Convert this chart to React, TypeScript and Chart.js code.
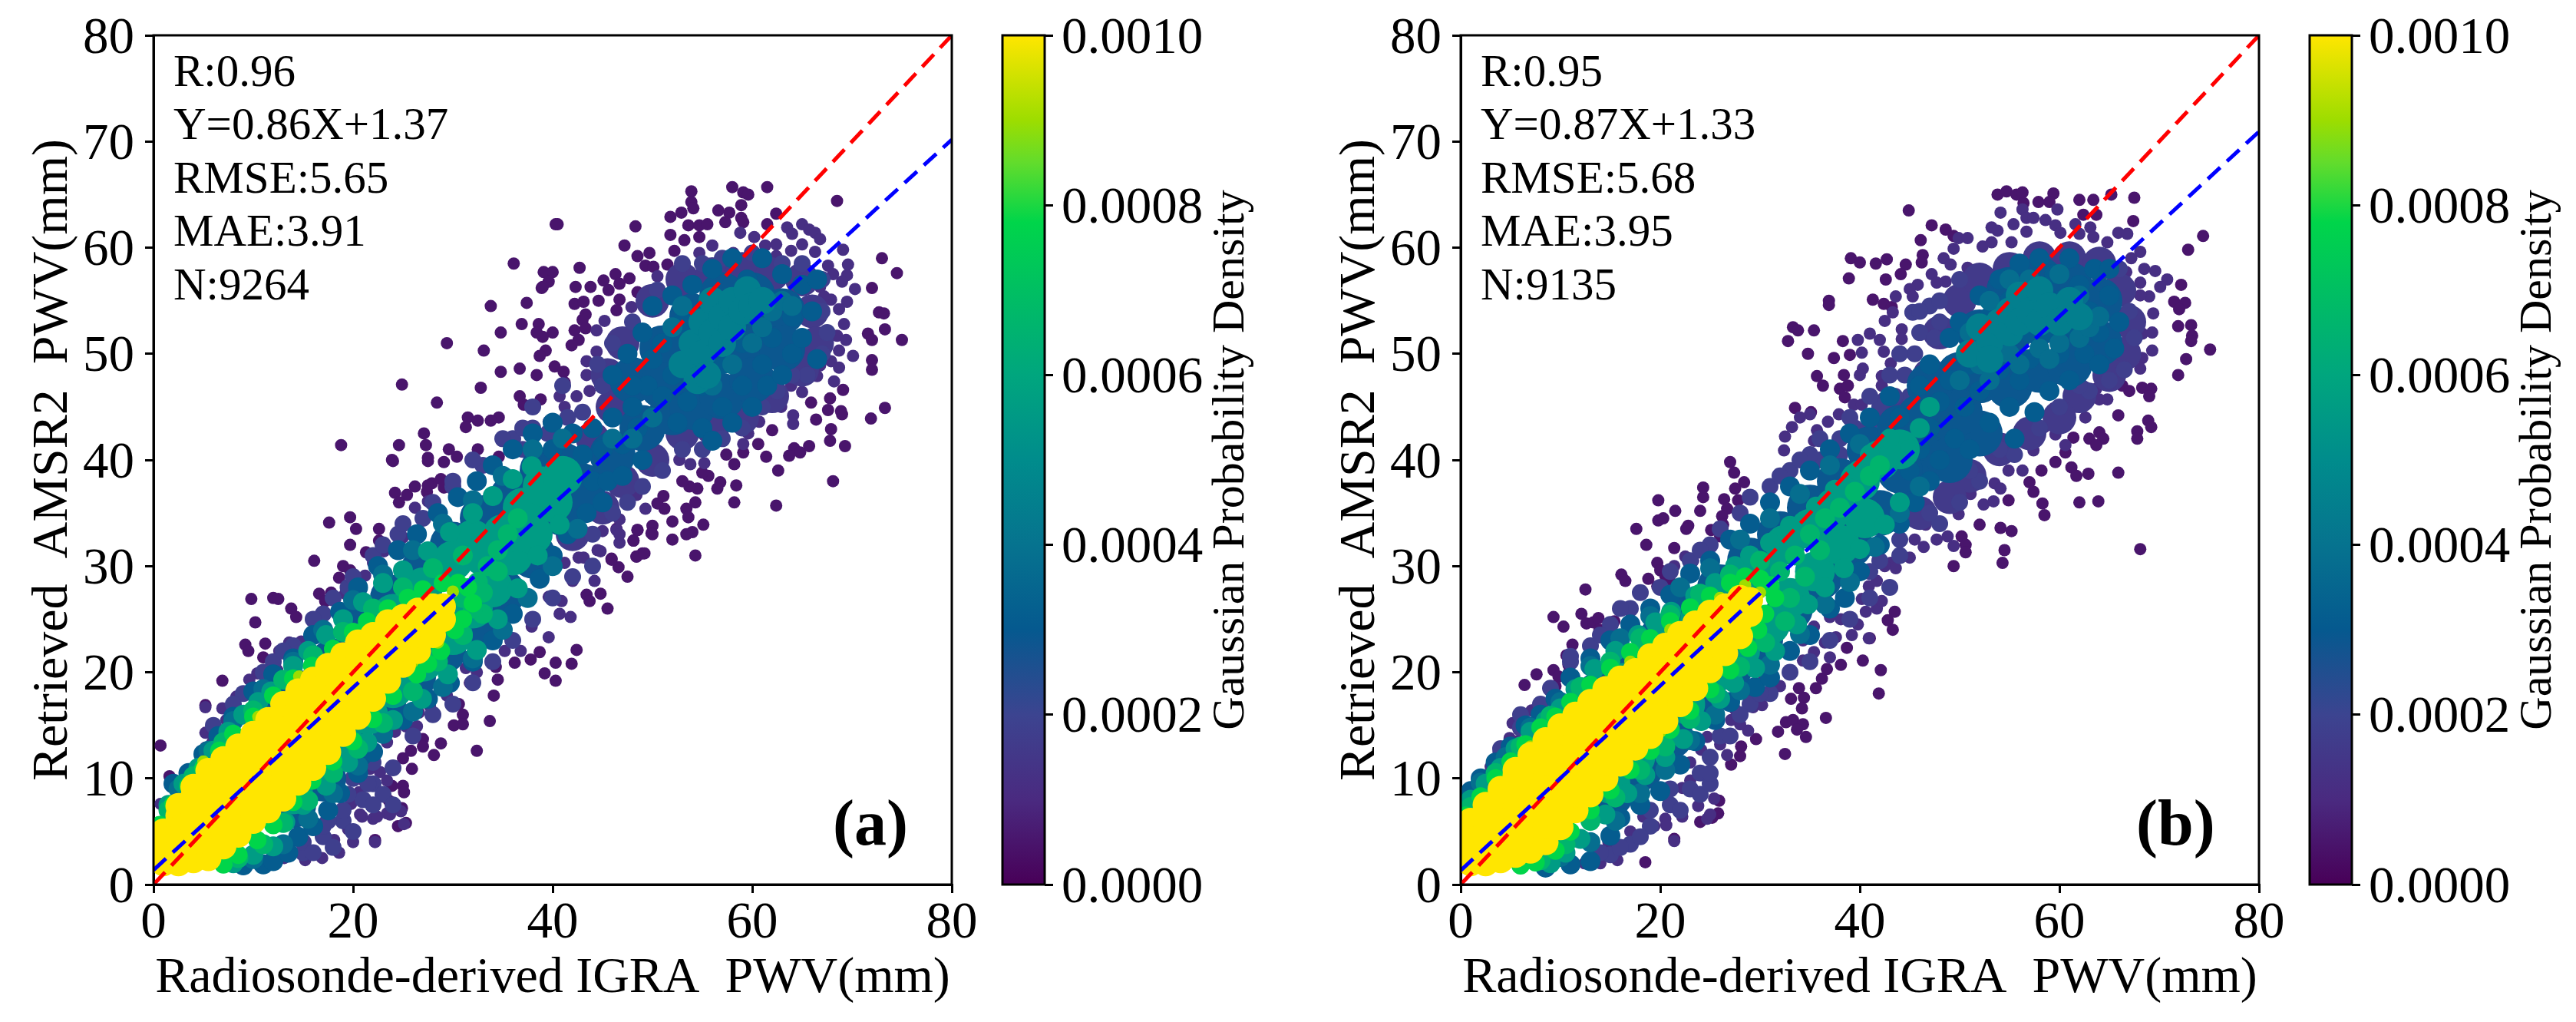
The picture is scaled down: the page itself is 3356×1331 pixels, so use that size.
import { useEffect, useRef } from "react";
import { Chart, registerables } from "chart.js";

Chart.register(...registerables);

const xTickValues = [0, 20, 40, 60, 80];
const yTickValues = [0, 10, 20, 30, 40, 50, 60, 70, 80];
const densityTicks = [0, 0.0002, 0.0004, 0.0006, 0.0008, 0.001];
const lineX = [0, 80];
const refY = [0, 80];
const fitYA = [1.37, 70.17];
const fitYB = [1.33, 70.93];
const statsA = ["R:0.96", "Y=0.86X+1.37", "RMSE:5.65", "MAE:3.91", "N:9264"];
const statsB = ["R:0.95", "Y=0.87X+1.33", "RMSE:5.68", "MAE:3.95", "N:9135"];

// colour bar, fraction of range and colour
const cmapStops = [0, 0.1, 0.2, 0.3, 0.4, 0.5, 0.6, 0.7, 0.78, 0.85, 0.9, 1];
const cmapColors = ["#480058", "#4a2a80", "#3c4490", "#05598f", "#06738f", "#008c8c", "#00a67e", "#00bf62", "#00d54a", "#62dc2c", "#9ddd00", "#ffe600"];

// panel (a), x,y pairs grouped by density
const aDark = [53.9,65.3,58,65.7,61.5,65.7,59.1,65.2,59.6,65,58.9,64,58.9,62.8,68.5,64.4,53.9,64.3,54.1,63.7,52.9,63.3,51.8,62.9,56.6,63.5,57.7,63.3,59.1,62.4,62.4,63.2,40.5,62.2,48.3,62,53.6,62.1,54.7,62.1,55.5,62.2,61.5,62.2,57.3,62.4,51.8,61.2,53.2,60.7,54.7,61,47.2,60.2,52.2,59.7,49.7,59.5,48.5,59.2,51.5,58.4,49.3,58.3,50.1,58.2,42.7,58.1,39.1,57.7,40,57.7,39.6,56.8,38.9,56.2,42.3,56.3,43.8,56.3,42.2,54.7,45.1,56.9,46.3,57.5,47.7,57.1,46.7,56.6,45.6,56,44.6,55,46.7,55.1,43.1,54.9,43.3,53.7,43,53.2,46.4,54.1,48.5,55.8,38.6,52.8,40,52,39,51.6,42.2,52.2,43.3,52.4,42.6,51.3,41.9,50.8,39.3,50.3,38.7,49.8,40.2,48.8,41.1,48.3,41.2,47.3,73,59,74.5,57.6,72,56.2,72.7,53.9,73.2,53.8,73.3,52.3,75,51.3,71.6,51.9,72,51.3,72,49.4,72,48.5,69.1,46.6,67.8,45.8,65.9,45.4,73.3,44.9,67.6,44.7,68.9,44.6,69,44.3,71.9,43.9,66.4,43.8,67.9,42.9,67.8,41.8,69.3,41.3,65.7,41.3,64.2,41.1,64.8,40.7,63.7,40.4,62,42.8,61.4,40.3,60.6,41.5,59.1,40.7,57.4,40.5,58.2,39.6,62.6,39,68.1,38,58.4,37.6,56.8,37.9,56.5,37.3,58.2,36,62.4,35.7,54.5,37.3,53.7,37.5,53,38,55.6,38.5,55,38.8,54.3,36,53.4,35.4,53.6,34.6,55.1,33.9,52,34.2,54,33.2,53.4,33,52,32.5,50,33.8,49.9,33.1,48.5,33.4,48.1,32.4,49,31.2,48.4,30.9,54.3,31,45.9,30.7,51.2,35.4,50.5,35.9,51.1,36.6,24.2,36.9,26.2,37.5,27.9,37.8,27.4,37,29.1,37.4,24,39.9,27.5,39.9,29.1,39.8,19.7,34.6,17.6,34.1,20.3,33.5,22.6,33.5,22.6,32.4,19.7,32,16.1,30.5,21.3,31.3,19,30,19.7,29.6,18.6,28.9,16.6,27.4,17.8,27.5,17.2,26.7,9.8,26.9,12,27,12.5,26.9,13.8,26,14.3,25.2,10.2,24.7,9.2,22.6,9.5,22,11.2,22.7,11,21.4,6.9,19.2,5.2,16.9,45.5,26,44.8,27.4,43.4,27.3,43.7,26.7,47.5,29,46.6,29.9,45.9,30.6,48.4,30.9,49.2,31.2,48.1,32.4,48.5,33.4,50,33,46.4,33.5,42.4,22.1,41.9,20.8,40.3,20.9,38.7,21.9,37.8,21.2,39.2,19.9,40.3,19.2,36.2,20.9,34.3,20.5,34.5,19.3,34.1,17.8,31.7,19,33.7,15.4,30.6,17,31,16,30.1,15,31,15.1,32.4,12.6,28.8,13.3,27,13.7,27,13,28.1,12.2,25,11.9,25.8,12.6,25.9,10.9,22.2,4.2,25.3,5.8,24.5,5.5,25,9.3,25.1,8.7,23.9,9.3,24.9,7.2,23.6,7.9,0.7,13.1,1.6,10.2,24.9,47.1,18.8,41.4,28.4,45.4,29.4,51,33.1,50.3,32.8,46.8,23.9,40,24.6,41.4,27.1,42.5,27.3,41.4,27.5,40.2,28.8,38.2,27.5,37.6,30.4,40.3,31.5,44,34.6,44,37.1,45.2,38.8,45.7,34.8,52,36.9,52.8,34.8,48.3,36.7,46,37.4,54.8,36.1,58.5,39,56.3,40.3,62.2,33.8,54.5,38.4,52,38.4,48,36.7,48.6,31.3,43.1,32.5,43.7,33.8,43.7,29.6,41,32.5,41,34.6,40.3,25.4,36.7,24.6,36];
const aIndigo = [69.1,59.8,69.6,58.4,69.5,57.4,69,56.8,70.3,56.1,69.5,54.9,67.9,55.1,68.7,54.2,69.2,52.8,68.5,51.7,69.4,51.3,70.1,49.8,68.7,50.3,67.9,49.3,68.7,48.7,66.8,48.9,66.5,47.9,68.2,47.4,65,46.4,63.9,47,62.9,45,64.1,44.2,64.1,43.4,60.7,43.6,59.6,42.5,59.1,41.5,55.2,39.7,53.8,39.6,52.7,40,49.3,35.4,48.4,36.7,46.7,34.4,46.4,33.4,45,33.3,46.7,32.2,44.8,31.4,42.6,30.8,41.2,30.3,47.9,54.4,45.2,53.1,44.4,52.2,43.4,49.3,44.4,50.2,43.4,48,43.7,46.5,40.7,46,42.4,46,41.2,45,39.6,43.6,50.5,57.3,54.7,59.5,56,60.2,58.1,59.5,58.8,61.4,60.2,61,61.3,60.2,62.4,60.3,63.5,61.9,64,61.3,65,62.2,65.7,61.7,66.3,61.4,66.8,60.8,63.9,59.7,65,60.3,66.3,59.6,62.4,59.2,59.9,59,67.6,58.3,68.1,57.5,66.8,56.3,67.2,55.4,13.6,22.8,12.6,22,15.7,23.5,14.8,22.9,10.4,19.9,9.6,19.3,11,19.9,12.4,20.2,8.3,17.7,9.7,18,26.2,35.5,26.9,34.6,27.5,36.1,25,32.7,23.1,31.4,22,30.3,20.3,28.6,21.2,29.1,19.2,27.4,21.7,10.9,20.9,9.9,20.6,8.7,22.7,10.6,23.4,9.8,22.8,8.4,20.9,6.4,22,6.2,23.4,6.7,19.8,7.6,19.5,5.2,18.1,4.2,24.2,14.4,25.3,14.9,26.4,14.9,26.6,16.2,23.4,13.4,29.4,17.8,27.7,16.8,32.4,20,31.3,20.4,35.2,22,36.8,22,37.9,24.3,39.6,23.3,40.7,25.5,41.8,25.2,40.9,26.7,39.6,27.1,42,28.6,44.2,28.6,43.1,30.8,44.5,31.5,46.7,33,25.1,5.7,22.2,4,20,4,18.6,3,16.9,2.5,15.2,2.3,13.1,2.5,23.7,6.6,24.8,6.9,22.4,6.4,20.7,6.6,18.9,5.9,17.6,4.2,0.7,7.6,1.4,7.6,5.2,16.7,6.9,16.6,8.3,17.6,5.2,14.3,5.9,14.6,7.3,15.5,5.2,12.9,5.9,13.4,3.3,10.7,4.8,10.7,2.8,8.9];
const aPlumCore = [47,51,50,55,53,57,56,57.5,59,58,62,57.5,65,57,66,54,66.5,51,65,48.5,62,46,59,44,56,43,53,42.5,50,40,47,38,45,35.5,44,42,46,45,45.5,48,42,33];
const aPlum = [50.5,56,48,53,46,51,44.5,49,45,47,43,44.5,41.5,44,39.5,42.5,37,41,67,54,67.5,52,67,50,65.5,48,64,48,62.5,46.5,61,45,59,43,57,42,55,41,53,41,51,39,49,37.5,47.5,36,46,35,44,33,53,58.5,55,58.5,57,59,60,59.5,63,58.5,65,58.5,67,57,15,3,17,4.5,19,6,21,8,22,9.5,24,11,6,15,9,18,12,21,14,22.5,17,25.5,19.5,28,22,31,24.5,33,27,34.5,30,37.5,33,39.5,36,42,38,43,15,4,17,5.5,19,7,20,5,21.5,9.5,23,8.5,22,7.5,24,7.5,18,3.5,16,3,20,10,22,11.5,17.5,6,19.5,8.5,26,14,28,16,30,17,32,19,34,21,36,23,38,25,40,27,42,29,44,30,8,17,11,20,13,22,16,25,18,27,20,29,23,32,25,34,28,36,30,38,32,40,35,42,37,43,38,45,41,47];
const aBlueCore = [6,9,9,12.5,12,15.5,15,18,18,21,21,24.5,24,27,27,29.5,30,32,33,34.5,36,36.5,39,39,41,39.5,14,7.5,17,10,20,13,23,17,26,19.5,29,22,32,24.5,35,27.5,38,31,41,35,43,37.5,46,40.5,49,43,52,44.5,48,47.5,51,50.5,51,47,54,53.5,54,48.5,54,45,57,55.5,57,50.5,57,46,60,55.5,60,51,60,47.5,63,54,63,50.5];
const aBlue = [2,9.5,3.5,10.5,5,12.3,6.5,14,8,15.8,10,18.2,12,19.8,14,21.3,16,23.5,18.7,25.7,20.5,28,22.5,30,24.5,31.5,26.4,33,28.5,35,30.5,36.5,32.4,38,34,39.5,36,41,38,42.5,40,43.5,9,1.8,11,1.9,12,2.2,13.5,3,14.5,4.5,16,5.5,17.5,7,18.7,8.6,20.5,10.5,22,12.5,23,14.4,25,15.5,27.5,17.5,29.7,19,32,21,34,23,36,25.5,38.7,28.8,40,31,41.5,33,43.4,35,45,36,40,41,41,38.5,42,42.5,43,40.5,44,43,44,38,45,41,45.5,38,46,44,47,41.5,47,38.5,48,45,48.5,43,49,40,49.5,47,46,48,47.5,50,48,47,49,52,50,49.5,50,54.5,51,46,51,51,52,55.5,52,48,52.5,43.5,53,53,53.5,45.5,54,50,54,56.5,55,47,55,43,55.5,53,56,58,56,41.8,57,49,57,45,57.5,55,58,59,58,43.5,59,51,59,47,59.5,57,60,45,60,53.5,61,49,61,59,61.5,47,62,55,62,51.5,63,57.5,63,48,64,53.5,64,50,65,56.5,65,51.5,66,54,66.5,57,66.5,49.5];
const aSteel = [2.5,9,5.5,12.6,8,15.4,11,18.4,14,21,17,24,20,26.8,23,29.2,26,31.5,29,34,32,36.2,35,38.5,38,41,41,42,10,2.4,13,3.8,15.5,6.2,18,8.6,20.5,11.2,23,14.2,26,16.3,29,18.6,32,21.3,35,24,37.5,27,40,30,42.5,33.5,52,52.5,53,54.5,60,51,61,52.5,62,54,63,55,56,47,58,49,64,54.5,46,42,48,42,50,44];
const aTeal = [53,49,54,51,55,50,55,53,56,52,56,55,57,53.5,57,51,58,55,58,52.5,59,54,59.5,56,60,54.5,61,55,54.5,47.5,55.5,48];
const aSeaCore = [9,10.5,11.5,13,14,15.5,16.5,18,19,20.5,21.5,23,24,25.5,27,28,30,30.5,32,32.5,14,8.5,16.5,11,19,13.5,21.5,16,24,18.5,27,21,30,23.5,32,26,34,28,36,31,38,33,40,36,33,31,35,33,37,35.5,39,37.5,41,38.5];
const aSea = [1.5,7.5,3,9.5,4.5,11,6,12.6,7.5,14.4,9,16,10.5,17.2,11.8,18.2,14,20.6,15.5,22,17.3,23.5,19,25,21,26.6,23,28.4,25,29.6,27.5,31.4,29.7,33.2,32,35,34,36.6,36,38.2,37.9,39.4,8,2,10,2.8,12,3.6,13.2,5.9,15,7.5,17.3,9.3,19.5,11.5,21.4,13.4,24,15.5,26.9,17.5,29.5,19.8,32.4,22.1,34.5,25,36.5,27.9,38.5,31,40.7,33.9];
const aMint = [1.5,7,4,10.2,7,13.4,10,16.4,13,19.3,16,21.6,19,23.8,22,26,25,28,28,29.8,31,31,8.5,2.5,11,3.8,13,5.8,15.5,7.9,18,10.5,20.5,12.8,23,15.2,26,18.2,28.5,21,31,23.5,33,25.5,31,27,32.5,28.5,33.5,30,34.5,31.5,35.5,33,36.5,34.5,32,26,33,27.5,34.5,29.5];
const aGreen = [0.6,5.6,2,7.6,3.5,9.3,5,11,6.6,12.6,8,14.2,10,15.8,12,17.8,14,19.4,15.9,20.6,18,22.2,20,23.8,21.4,24.8,23.5,26,25.5,27,27,27.8,29,28.4,30.5,28.4,31.5,28,32,26.5,31,25,30.2,24,28.8,22,27.5,20.8,26.4,19.8,24,17.8,22,15.6,20,13.5,18,11.6,15.9,9.8,14,7.8,12,5.6,10.4,4.2,8.5,2.8,7,1.9];
const aLime = [30,27.6,29.6,25.8,28.5,22.8,26,21,23.8,18.6,17,12.2,5,11.6,14.6,19.6,10.5,15.8];
const aYellow = [1,2,1,3.5,1,5,2.5,2,2.5,3.5,2.5,5,2.5,6.5,2.5,7.4,4,2.3,4,3.8,4,5.3,4,6.8,4,8.3,4,9.2,5.5,2.5,5.5,4,5.5,5.5,5.5,7,5.5,8.5,5.5,10,5.5,10.7,7,3.6,7,5,7,6.5,7,8,7,9.5,7,11,7,11.8,8.5,4.7,8.5,6.2,8.5,7.7,8.5,9.2,8.5,10.7,8.5,12.2,8.5,13,10,6,10,7.5,10,9,10,10.5,10,12,10,13.5,10,14.2,11.5,7,11.5,8.5,11.5,10,11.5,11.5,11.5,13,11.5,14.5,11.5,15.5,13,8.1,13,9.6,13,11.1,13,12.6,13,14.1,13,15.6,13,17,14.5,9.6,14.5,11,14.5,12.5,14.5,14,14.5,15.5,14.5,17,14.5,18.2,16,11,16,12.5,16,14,16,15.5,16,17,16,18.5,16,19.3,17.5,12.5,17.5,14,17.5,15.5,17.5,17,17.5,18.5,17.5,20,17.5,20.6,19,14.2,19,15.7,19,17.2,19,18.7,19,20.2,19,21.6,20.5,15.8,20.5,17.3,20.5,18.8,20.5,20.3,20.5,21.8,20.5,22.8,22,17.5,22,19,22,20.5,22,22,22,23.5,23.5,19.2,23.5,20.7,23.5,22.2,23.5,23.7,23.5,24.7,25,20.7,25,22.2,25,23.7,25,25.2,26.5,22,26.5,23.5,26.5,25,26.5,25.8,28,23.5,28,25,28,26.2,29,25,29,26.2];

// panel (b), x,y pairs grouped by density
const bDark = [44.9,63.5,47.2,62.1,48.6,61.7,49.4,61.1,46.1,60.7,46.3,59.3,46.2,58.6,39.1,59,40,58.6,41.6,58.5,42.7,58.9,44.6,58.4,38.9,57.1,42.6,57,44.1,57.5,36.9,55,36.9,54.6,41.3,55.1,42.4,54.7,43.2,54.4,33.3,52.5,33.8,52.2,35.4,52.2,32.8,51.2,38.3,51.2,34.8,50,37.4,49.6,39,49.9,35.7,47.9,36.3,47,38.4,48,38,46.7,38.8,47,38.5,45.9,33.5,44.9,35.1,44.5,53.8,65,54.7,65.3,55.7,65,56.3,65.2,56.4,64.2,59.4,65.1,57.9,64.3,59,64.3,62,64.5,63.4,64.5,65.2,65,67.5,64.7,62.4,63.1,63.7,63.1,67.4,62.5,74.4,61.1,72.9,59.8,72.2,56.5,71.5,54.9,72.6,54.8,72,54.2,71.9,52.6,73.2,52.7,73.3,51.7,73.2,51.2,72.7,49.5,71.9,48,75.1,50.4,68.3,46.8,69.2,46.7,69,46,66.3,47,67,46.5,65.9,44.2,68.9,43.7,69.2,43.1,67.8,42.7,67.8,42,64,42.6,63,42,64.4,42,63.7,41.4,61.4,42.1,60.6,40.7,59.6,39.8,61.2,39.3,61.7,38.5,62.9,38.7,65.9,38.8,58.2,39,62,36,63.9,36.1,58.3,35.9,58.5,34.8,57.4,37,57,37.9,54.9,36.2,52,33.9,54.1,33.6,55.2,33.3,54.5,31.5,54.3,30.3,68.1,31.6,50.2,32.8,50.6,32,50.6,31.3,49.4,30,27,39.8,27.4,38.8,24.3,37.4,24.3,36.5,28.4,37.9,27.5,37.3,27.8,36.2,19.8,36.2,21.5,35.2,24,35.2,19.8,34.3,20.3,34.5,22.8,33.8,22.6,33.5,17.6,33.5,18.6,32,21.4,31.7,26.4,36.3,26.7,35.4,26.2,34.7,26.3,33.9,25.1,33.4,26,32.8,19.7,30.3,20,29.6,20.5,29.1,18.8,28.8,19.7,28.1,21.1,28.4,16.1,29.2,16.5,28.6,12.5,27.8,9.3,25.2,10.3,24.3,12.1,25.5,12.6,24.6,13.3,24.7,13.8,25.1,13.9,24,15.4,24.8,11.2,22.6,10.6,21.6,7.6,19.8,6.4,18.8,9.3,20.2,9.8,19.6,9.5,18.7,10.8,20.7,10.8,19.9,42.1,20.2,41.9,18,36.6,15.7,40.3,21.1,38.1,20.7,35.6,18.5,36.2,19.4,33.9,18.5,34.4,17.6,33.1,17.5,34.2,16.6,32.6,15.3,33.3,15.5,34.3,15.1,33.7,14.6,34.6,13.9,31.8,14.4,32.5,12.3,43.5,25.7,42.8,24.9,43.3,24,41,23.2,38.7,22.3,36.7,20.3,29.6,13.7,28,12.1,27.1,11.3,28.1,13,21.4,4.3,25.9,7.9,25.8,6.7,25.2,6.3,24,5.9,18.5,2.1];
const bIndigo = [56.3,63.6,54.1,63.3,53.2,61.9,53.8,61.6,55.4,62.2,56.7,62.8,57.4,62.8,56.7,61.5,59.8,63.6,58.6,62.6,59.6,62.1,60.1,61.4,63.1,61.9,63.4,61,61.6,62.2,62,61.3,65.9,61.4,66.8,61.3,64.8,60.5,68.1,59.6,67.2,59,66.7,57.7,68.5,58,69.6,57.8,70.8,57,70.1,56.3,68.1,56.7,69,55.4,68.1,55.5,66.8,55.6,69.4,53.8,67.7,53.2,69.3,52,68.3,51.9,69.3,50.3,68.3,49.6,67.1,50.5,67.1,49.3,68.1,48.6,65.6,48.9,66.4,48.3,64.5,47.4,63.7,46.7,64.8,45.7,64,45.7,61.9,46,61.2,45,62.6,44,59.6,42.4,60.6,41.4,58.5,43.1,57.4,40.9,56.3,39,53.5,37.8,54.1,37.3,54.9,39,52.4,35.8,53.4,36.1,50.5,38,51.1,36.8,49.9,34.9,49.4,36.3,47.7,32.5,48.8,32.8,49.4,31.9,46.4,31.8,45.5,32.5,46.6,33.9,45,30.8,43.1,30.3,49.9,60.9,50.8,60.9,49.4,59.9,48.4,59,49.1,58.4,50.8,58.1,52.3,60.1,53.2,60.5,55.2,60.5,47.2,57.5,48.6,56.8,47.7,56.7,45.8,56.5,45,56.1,43.6,55.4,45.3,55.4,43.3,53.9,42.5,53.1,44.2,52.3,44.2,51.4,41,51.9,39.8,51.3,42,51.3,40.2,50.1,42.4,50.2,43.1,49.1,40.3,48.6,40,48,42.2,47.9,42.2,47,39.4,45.2,40.2,45.2,37.9,44.3,36.8,43.6,35.7,42.8,35,44.3,34,44,33.2,43.1,32.5,42.2,35.4,41.8,32.4,40.9,21.4,30,22.5,30.9,23.3,30.5,5.2,15.2,5.8,14.6,6.8,14.2,4.9,13.8,5.7,13.5,3.8,12.5,3,11.1,7.1,16.4,7.6,16.6,8.3,15.9,28.8,14.5,28,15.1,27.1,15.5,27.5,16.5,29.3,16.7,30.2,16.9,28.8,18.2,32,18.7,30.4,19.4,34.3,21.1,35.4,21.9,36.5,22.8,37.6,23.3,39.2,23.5,40.9,23.2,37,21.4,35.4,24.3,34.3,23,37,25.2,38.1,25,39.8,24.5,40.6,25.7,41.7,26,42.2,26.7,40.9,28.1,41.7,28.6,40.2,26.9,42.5,30,43.6,29.8,26,13.2,24.7,13.9,26.7,12.2,24.1,12.7,23,11.5,23,9.8,22.2,9.1,20.5,8.4,23.8,7.4,22.2,6.4,20.5,6.2,19.4,5.5,18.3,6.4,17,5,14.8,4,24.7,6.2,12.4,2,14,2,15.7,2.3,16.9,3.8,21.4,4.1,25,6.6,25.4,8.1,20.6,5.6];
const bPlumCore = [47,48,46,45,48,52,50,55,52,57,55,58,58,59,61,59,64,58.5,66,56,67,53,66.5,50,65,48,62,46,60,44,57,42.5,54,41,51,38.5,49,36.5,46,35,44,39,43,45];
const bPlum = [45.3,53.9,47,54.5,48,53,46,52,47.5,51.5,45.5,50,46.5,48.5,44.5,48,45,46,43.5,46,42,45,43,44,41,43.5,39.5,43,38,42,37,41,38,40.5,36,40,66,58,67,54,67.5,51.5,66.5,48.5,65,47.5,63,46.5,62,47,60,45,58,43,55.5,40.5,54,41,52,38,51,39,50,36,48,34,47,35,44,32.5,42,30.5,41,29.5,15,2.8,17,3.8,19,5.5,21,7.5,23,9,24,10.5,25,12,26,14,29,17,31,18,4,12.8,6,14.8,8,17,11,21,13,22.5,15,24.5,17,26,20,28,23,30.5,25,32,28,35,31,37.5,33,39,35,40.5,14,3,16,3.5,18,4.5,19,7,21,9,22,7,24,8.5,25,9.5,25,10.5,27,14,28,16,30,18,33,20,35,21,37,23,39,25,41,27,43,28,44,31,6,16,9,18.5,11,21.5,14,23.5,16,26,18,27.5,21,29.5,24,31.5,26,33.5,29,36.5,32,38.5,34,40,36,42,39,44,41,46,43,48,44,50,46,54,48,55,50,57];
const bBlueCore = [5,9,8,11.5,11,15,14,18,17,20.5,20,23,23,25.5,26,28,29,30.5,32,33,35,35.5,38,38,41,41,44,43,15,8.5,18,11,21,14,24,17.5,27,20.5,30,23,33,26,36,29,39,32,42,35,45,38.5,47,42,49,44,52,42.5,50,48,52,52,52,47.5,55,56,55,52,55,47,58,57,58,53,58,48.5,61,56.5,61,52.5,61,49,64,55,64,51,44,39,46,44,49,40,50,44.5,47,47];
const bBlue = [1,8.8,2,10,3.5,11.5,5,13,6.5,15,8,16,9.5,17.5,11,19.5,13,21.3,15,23,17,24.5,19,26,21,27.3,23,29.3,25,30.5,27,32.5,29,34,31,36,33,37.5,35,39,37,41,39,42.5,41,44,43,46,8.5,1.6,11,1.9,13,2.2,15,4.6,16,6.3,18,7.5,20,8.8,22,11.3,23.5,13.5,25.5,15.5,27,17.2,29.5,18.6,31,19.5,33,22,35,23.5,37,26,38.5,27,40,29.5,42,32,44,34,45.5,36,47,38,48,40,44,44,45,39,46,47,46,41,47,49,47,43,48,45.5,49,51.5,49,47.5,49.5,42,50,53,50.5,45,51,49,51,41,52,55.5,52,51,52,46.5,53,43.5,53,53.5,54,57,54,48.5,54,50.5,55,55,55,45,55.5,42,56,58.5,56,47.5,57,52,57,49.5,57.5,44.5,58,59,58,55,59,46.5,59,52,59.5,57.5,60,50,60,55,61,47.5,61,59,61.5,52.5,62,56.5,62.5,50,63,54,63.5,58,64,49,64,52,65,55.5,65,58,65.5,50.5,66,53];
const bSteel = [2,9.6,4.5,12,7,14.8,10,17.2,13,20.6,16,23.2,19,25.3,22,28,25,29.8,28,32.5,31,34.5,34,36.8,37,39.5,40,41.5,10,2.6,13,4,15.5,6,18,8.6,20.5,10.8,23,13.6,25.5,16,28,18.3,31,20.7,34,23.6,36.5,26.4,39,28.5,41.5,31.8,44,35,46,37.5,50,47.5,52,49,53,47.5,55,50,56,49,58,50.5,59,49.5,60,51,62,51.5,63,52.5,64,53.5,53,55,55,57,57,57,60,57.5,62,55.5,51,52];
const bTeal = [51,50,52,52.5,53,51,54,53,55,52,55,54,56,53,56,55.5,57,54,58,53,58,56,59,54.5,60,53,61,55,62,53.5,53,49.5];
const bSeaCore = [9,11.5,11.5,14,14,16.5,16.5,19,19,21,21.5,23,24,25,27,27,30,29.5,32.5,32,35,33.5,37.5,35.5,40,38,42,40,44,41,15,9.5,17.5,12,20,14.5,22.5,17,25,19.5,28,22,31,24.5,33,27,35.5,29.5,38,32,40.5,34.5];
const bSea = [1,8,2.5,9.5,4,11,5.5,12.8,7,14.4,8.5,15.4,10,16.6,11.5,18.4,13.4,20.3,15.5,22,17.8,23.5,19.5,24.7,21.1,25.7,23.5,27.2,25.5,28.4,27.5,30,29,31,31,32.2,33,33.8,35.6,35.6,37.5,37.2,39.8,39,41,40.5,43,42,9,2,10.5,3,12,4.3,14.5,6.6,16.7,8.6,18.5,10.3,20.5,12,22.3,13.7,24.1,15.4,26,17.5,27.4,19,29.5,20.4,31.5,22,33.7,24.5,34.8,26.4,36.5,28,38.4,29.8,40,31.6,42.5,33.9,44,36,45,41,46,43,47,45];
const bMint = [1,7.3,3.5,10.5,6,13,9,15.9,12,18.6,15,21,18,23.2,21,25.4,24,27.4,27,29.2,30,30.5,8,2.3,10.5,3.8,13,6,15.5,8.2,18,10.8,20.5,13,23,15.6,25.5,18,28,20.5,30.5,22.8,32.5,24.8,31,28,32,29.5,33.5,31,35,33,36.5,34.5,38,35.5,39.5,37,41,38.5,42,39.5,33,27,34.5,29,36,31.5];
const bGreen = [0.5,6.5,2,8.3,3.5,10,5,11.6,6.5,13.2,8,14.8,9.5,15.8,11,17.2,13,18.8,15,20.4,17,21.9,19,23.2,21,24.8,23,26.1,25,27.2,27,28.4,28.5,29,30,28.8,31,28.2,31.5,27,30.5,25.5,29.8,24,28.8,22.3,27,20.2,25,18.4,23,16.4,21,14.6,19,12.6,17,10.8,15,8.9,13,7,11,5,9.5,3.2,7.5,2.1,6,1.8];
const bLime = [30,27.5,29.5,25.5,28.5,28.2,26,27,21,24,17,21,7,13,5,11,28,22.8,24,18.6,20,14.4,12,6.5,9,3.5];
const bYellow = [1,2,1,3.5,1,5,1,6,2.5,2,2.5,3.5,2.5,5,2.5,6.5,2.5,7.5,4,2.3,4,3.8,4,5.3,4,6.8,4,8.3,4,9,5.5,2.8,5.5,4.3,5.5,5.8,5.5,7.3,5.5,8.8,5.5,10.3,5.5,10.8,7,3.2,7,4.7,7,6.2,7,7.7,7,9.2,7,10.7,7,12.2,8.5,4,8.5,5.5,8.5,7,8.5,8.5,8.5,10,8.5,11.5,8.5,13,8.5,13.6,10,5.4,10,6.9,10,8.4,10,9.9,10,11.4,10,12.9,10,14.4,10,14.9,11.5,7,11.5,8.5,11.5,10,11.5,11.5,11.5,13,11.5,14.5,11.5,16,13,8.5,13,10,13,11.5,13,13,13,14.5,13,16,13,17.2,14.5,10,14.5,11.5,14.5,13,14.5,14.5,14.5,16,14.5,17.5,14.5,18.4,16,11.4,16,12.9,16,14.4,16,15.9,16,17.4,16,18.9,16,19.4,17.5,12.9,17.5,14.4,17.5,15.9,17.5,17.4,17.5,18.9,17.5,20.1,19,14,19,15.5,19,17,19,18.5,19,20,19,21.5,20.5,15.4,20.5,16.9,20.5,18.4,20.5,19.9,20.5,21.4,20.5,22.5,22,17,22,18.5,22,20,22,21.5,22,23,22,23.6,23.5,18.5,23.5,20,23.5,21.5,23.5,23,23.5,24.6,25,20.2,25,21.7,25,23.2,25,24.7,25,25.6,26.5,21.8,26.5,23.3,26.5,24.8,26.5,26.2,28,23.4,28,24.9,28,26.3,28,27,29,25.5,29,26.8];

const panelA = [aDark, aIndigo, aPlumCore, aPlum, aBlueCore, aBlue, aSteel, aTeal, aSeaCore, aSea, aMint, aGreen, aLime, aYellow];
const panelB = [bDark, bIndigo, bPlumCore, bPlum, bBlueCore, bBlue, bSteel, bTeal, bSeaCore, bSea, bMint, bGreen, bLime, bYellow];
const densityLevels = [0.00005, 0.00012, 0.00016, 0.00018, 0.00029, 0.00031, 0.00038, 0.00045, 0.00056, 0.00056, 0.00066, 0.00078, 0.0009, 0.001];
const layerRadius = [8, 8, 22, 11, 30, 13, 13, 18, 26, 13, 13, 12, 8, 17];

const FONT = "'Liberation Serif'";
const AXIS_LEFT = 200;
const AXIS_RIGHT = 1240;
const AXIS_TOP = 46;
const AXIS_BOTTOM = 1152;
const CANVAS_H = 1331;

function hexToRgb(hex: string) {
  return [1, 3, 5].map((i) => parseInt(hex.slice(i, i + 2), 16));
}

function colorFor(level: number) {
  const t = Math.min(1, Math.max(0, level / 0.001));
  let i = 0;
  while (i < cmapStops.length - 2 && t > cmapStops[i + 1]) i++;
  const f = (t - cmapStops[i]) / (cmapStops[i + 1] - cmapStops[i]);
  const a = hexToRgb(cmapColors[i]);
  const b = hexToRgb(cmapColors[i + 1]);
  return `rgb(${a.map((v, k) => Math.round(v + (b[k] - v) * f)).join(",")})`;
}

function toPoints(flat: number[]) {
  const out: { x: number; y: number }[] = [];
  for (let i = 0; i < flat.length; i += 2) out.push({ x: flat[i], y: flat[i + 1] });
  return out;
}

function axisOptions(ticks: number[], horizontal: boolean, title: string) {
  return {
    type: "linear",
    min: 0,
    max: 80,
    afterBuildTicks: (s: any) => {
      s.ticks = ticks.map((value) => ({ value }));
    },
    afterFit: (s: any) => {
      if (horizontal) s.height = CANVAS_H - AXIS_BOTTOM;
      else s.width = AXIS_LEFT;
      s.paddingTop = s.paddingBottom = s.paddingLeft = s.paddingRight = 0;
    },
    border: { display: true, color: "#000", width: 3 },
    grid: { drawOnChartArea: false, drawTicks: true, tickLength: 11, color: "#000", lineWidth: 3 },
    ticks: {
      autoSkip: false,
      maxRotation: 0,
      color: "#000",
      font: { family: FONT, size: 67 },
      padding: horizontal ? 0 : 14,
      labelOffset: horizontal ? 0 : 5,
    },
    title: {
      display: true,
      text: title,
      color: "#000",
      font: { family: FONT, size: 66 },
      padding: horizontal ? { top: 0, bottom: 17 } : { top: 30, bottom: 0 },
    },
  };
}

interface PanelProps {
  left: number;
  layers: number[][];
  fitY: number[];
  stats: string[];
  tag: string;
  tagX: number;
}

function Panel({ left, layers, fitY, stats, tag, tagX }: PanelProps) {
  const ref = useRef<HTMLCanvasElement>(null);

  useEffect(() => {
    if (!ref.current) return;
    const datasets: any[] = layers.map((flat, i) => ({
      data: toPoints(flat),
      backgroundColor: colorFor(densityLevels[i]),
      pointRadius: layerRadius[i],
      pointBorderWidth: 0,
      order: 100 - i,
    }));
    datasets.push({
      data: lineX.map((x, i) => ({ x, y: refY[i] })),
      showLine: true,
      borderColor: "#ff0000",
      borderWidth: 5,
      borderDash: [22, 12],
      pointRadius: 0,
      order: 1,
    });
    datasets.push({
      data: lineX.map((x, i) => ({ x, y: fitY[i] })),
      showLine: true,
      borderColor: "#0000ff",
      borderWidth: 5,
      borderDash: [22, 12],
      pointRadius: 0,
      order: 0,
    });

    const chart = new Chart(ref.current, {
      type: "scatter",
      data: { datasets },
      options: {
        animation: false,
        responsive: false,
        devicePixelRatio: 1,
        events: [],
        layout: { padding: { left: 0, top: AXIS_TOP, right: 1300 - AXIS_RIGHT, bottom: 0 } },
        plugins: { legend: { display: false }, tooltip: { enabled: false } },
        scales: {
          x: axisOptions(xTickValues, true, "Radiosonde-derived IGRA  PWV(mm)"),
          y: axisOptions(yTickValues, false, "Retrieved  AMSR2  PWV(mm)"),
        },
      } as any,
      plugins: [
        {
          id: "frameAndText",
          afterDraw(c: Chart) {
            const { ctx, chartArea: a } = c;
            ctx.save();
            ctx.strokeStyle = "#000";
            ctx.lineWidth = 3;
            ctx.strokeRect(a.left, a.top, a.right - a.left, a.bottom - a.top);
            ctx.fillStyle = "#000";
            ctx.textAlign = "left";
            ctx.textBaseline = "alphabetic";
            ctx.font = `59px ${FONT}`;
            const baselines = [112, 181, 251, 320, 390];
            stats.forEach((s, i) => ctx.fillText(s, a.left + 26, baselines[i]));
            ctx.font = `bold 84px ${FONT}`;
            ctx.fillText(tag, a.left + tagX, 1100);
            ctx.restore();
          },
        },
      ],
    });
    return () => chart.destroy();
  }, [layers, fitY, stats, tag, tagX]);

  return (
    <canvas
      ref={ref}
      width={1300}
      height={CANVAS_H}
      style={{ position: "absolute", left, top: 0, display: "block" }}
    />
  );
}

function ColorBar({ left, width }: { left: number; width: number }) {
  const ref = useRef<HTMLCanvasElement>(null);

  useEffect(() => {
    if (!ref.current) return;
    const chart = new Chart(ref.current, {
      type: "scatter",
      data: { datasets: [] },
      options: {
        animation: false,
        responsive: false,
        devicePixelRatio: 1,
        events: [],
        layout: { padding: { left: 16, top: AXIS_TOP, right: 0, bottom: CANVAS_H - AXIS_BOTTOM } },
        plugins: { legend: { display: false }, tooltip: { enabled: false } },
        scales: {
          x: { display: false },
          y: {
            type: "linear",
            position: "right",
            min: 0,
            max: 0.001,
            afterBuildTicks: (s: any) => {
              s.ticks = densityTicks.map((value) => ({ value }));
            },
            afterFit: (s: any) => {
              s.width = width - 71;
              s.paddingTop = s.paddingBottom = s.paddingLeft = s.paddingRight = 0;
            },
            border: { display: false },
            grid: { drawOnChartArea: false, drawTicks: true, tickLength: 11, color: "#000", lineWidth: 3 },
            ticks: {
              autoSkip: false,
              color: "#000",
              font: { family: FONT, size: 67 },
              padding: 11,
              labelOffset: 5,
              callback: (v: any) => Number(v).toFixed(4),
            },
          },
        },
      } as any,
      plugins: [
        {
          id: "colorRamp",
          beforeDraw(c: Chart) {
            const { ctx, chartArea: a } = c;
            const g = ctx.createLinearGradient(0, a.bottom, 0, a.top);
            cmapStops.forEach((s, i) => g.addColorStop(s, cmapColors[i]));
            ctx.fillStyle = g;
            ctx.fillRect(a.left, a.top, a.right - a.left, a.bottom - a.top);
          },
          afterDraw(c: Chart) {
            const { ctx, chartArea: a } = c;
            ctx.save();
            ctx.strokeStyle = "#000";
            ctx.lineWidth = 3;
            ctx.strokeRect(a.left, a.top, a.right - a.left, a.bottom - a.top);
            ctx.translate(a.right + 259, (a.top + a.bottom) / 2);
            ctx.rotate(-Math.PI / 2);
            ctx.fillStyle = "#000";
            ctx.textAlign = "center";
            ctx.textBaseline = "alphabetic";
            ctx.font = `60px ${FONT}`;
            ctx.fillText("Gaussian Probability Density", 0, 0);
            ctx.restore();
          },
        },
      ],
    });
    return () => chart.destroy();
  }, [width]);

  return (
    <canvas
      ref={ref}
      width={width}
      height={CANVAS_H}
      style={{ position: "absolute", left, top: 0, display: "block" }}
    />
  );
}

export default function App() {
  return (
    <div style={{ position: "fixed", left: 0, top: 0, width: 3356, height: CANVAS_H, background: "#fff", overflow: "hidden" }}>
      <Panel left={0} layers={panelA} fitY={fitYA} stats={statsA} tag="(a)" tagX={885} />
      <ColorBar left={1290} width={360} />
      <Panel left={1703} layers={panelB} fitY={fitYB} stats={statsB} tag="(b)" tagX={880} />
      <ColorBar left={2993} width={363} />
    </div>
  );
}
